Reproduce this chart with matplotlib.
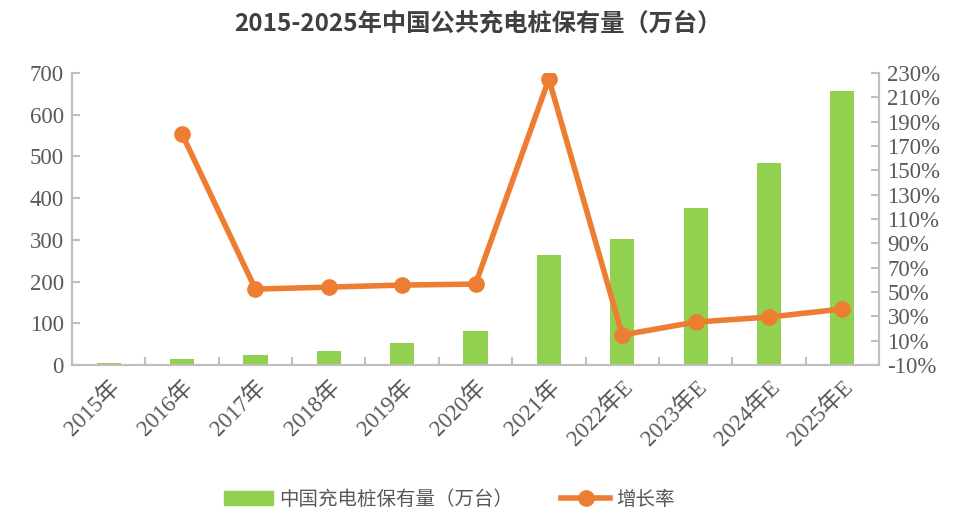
import numpy as np
import matplotlib.pyplot as plt
from matplotlib.lines import Line2D
from matplotlib.patches import Patch

years = ["2015年", "2016年", "2017年", "2018年", "2019年", "2020年",
         "2021年", "2022年E", "2023年E", "2024年E", "2025年E"]
piles = [5.8, 14.5, 24.5, 33.5, 53.5, 81.5, 264, 302, 376, 484, 657]
growth = [np.nan, 179.8, 52.4, 54.0, 55.7, 56.5, 225.0, 14.7, 25.3, 29.4, 36.0]

green = "#92D050"
orange = "#ED7D31"
grey = "#595959"
spine = "#BFBFBF"
serif = ["Liberation Serif", "Noto Sans CJK SC"]
cjk = ["Noto Sans CJK SC", "DejaVu Sans"]

fig = plt.figure(figsize=(9.56, 5.13), dpi=100)
ax = fig.add_axes([0.0753, 0.2885, 0.8442, 0.5692])
ax2 = ax.twinx()

x = np.arange(len(years))
ax.bar(x, piles, width=0.33, color=green, zorder=2)
ax2.plot(x, growth, color=orange, lw=4, marker="o", ms=11, zorder=3)

ax.set_xlim(-0.5, len(years) - 0.5)
ax.set_ylim(0, 700)
ax.set_yticks(range(0, 701, 100))
ax2.set_ylim(-10, 230)
ax2.set_yticks(range(-10, 231, 20))
ax2.set_yticklabels([f"{v}%" for v in range(-10, 231, 20)])

ax.set_xticks(x)
ax.set_xticklabels(years, rotation=45, ha="right", rotation_mode="anchor",
                   family=serif, fontsize=16.5, color=grey)
ax.set_xticks(np.arange(0.5, len(years) - 1, 1), minor=True)
ax.tick_params(axis="x", which="major", length=0, pad=8)
ax.tick_params(axis="x", which="minor", length=6, width=1.5, color=spine, direction="in")
ax.tick_params(axis="y", length=6, width=1.5, color=spine, direction="in", pad=6)
ax2.tick_params(axis="y", length=6, width=1.5, color=spine, direction="in", pad=6)

for lab in ax.get_yticklabels() + ax2.get_yticklabels():
    lab.set_family(serif)
    lab.set_fontsize(16.5)
    lab.set_color(grey)

for a in (ax, ax2):
    a.spines["top"].set_visible(False)
    for s in ("left", "right", "bottom"):
        a.spines[s].set_color(spine)
        a.spines[s].set_linewidth(1.5)

fig.text(0.5, 0.955, "2015-2025年中国公共充电桩保有量（万台）", ha="center", va="center",
         fontsize=17.5, fontweight="bold", color="#404040", family=cjk)

handles = [Patch(color=green), Line2D([], [], color=orange, lw=4, marker="o", ms=11)]
fig.legend(handles, ["中国充电桩保有量（万台）", "增长率"], loc="center",
           bbox_to_anchor=(0.47, 0.027), ncol=2, frameon=False,
           prop={"family": cjk, "size": 14}, handlelength=2.5, columnspacing=2.5,
           handletextpad=0.3, labelcolor=grey)

fig.savefig("out.png", dpi=100)
